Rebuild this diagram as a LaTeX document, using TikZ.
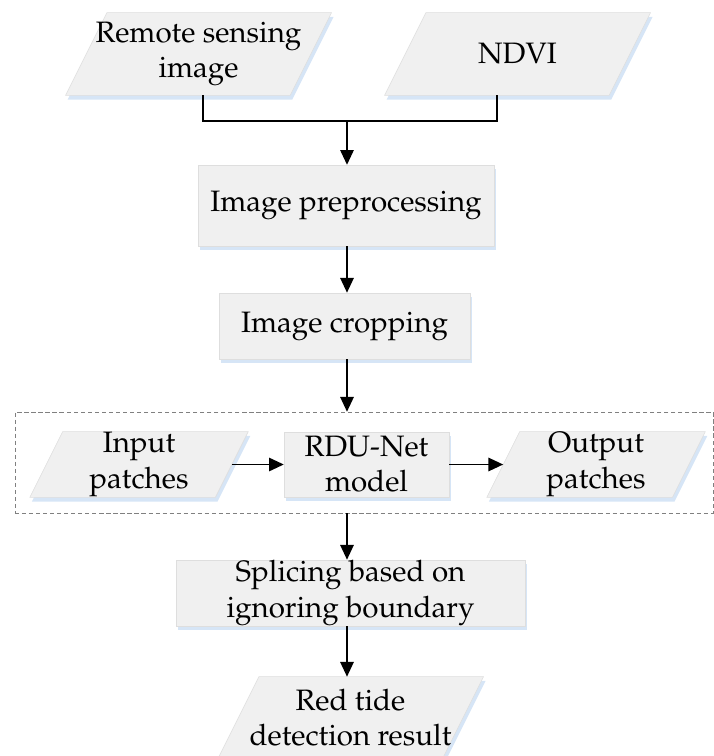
\documentclass[tikz,border=0pt]{standalone}
\usepackage[T1]{fontenc}
\usepackage{mathpazo}
\usetikzlibrary{arrows.meta, shadows, calc, backgrounds, positioning}

\definecolor{boxfill}{RGB}{240,240,240}
\definecolor{boxline}{RGB}{222,222,222}
\definecolor{shadowblue}{RGB}{214,229,246}

\begin{document}
\begin{tikzpicture}[x=0.025cm, y=-0.025cm,
  font=\fontsize{21}{25}\selectfont,
  boxshadow/.style={drop shadow={fill=shadowblue, opacity=1, shadow xshift=1.5pt, shadow yshift=-3pt}},
  procbox/.style={rectangle, fill=boxfill, draw=boxline, line width=0.4pt, align=center, inner sep=0pt, boxshadow},
  iobox/.style={rectangle, align=center, inner sep=0pt},
  iofill/.style={fill=boxfill, draw=boxline, line width=0.4pt, boxshadow},
  flowarrow/.style={-{Triangle[width=9.5pt,length=10.5pt]}, line width=1.3pt}]
\useasboundingbox (0,0) rectangle (714,756);

% inputs
\node[iobox, minimum width=5.6cm, minimum height=2.05cm](rs) at (198.5,54) {Remote sensing\\image};
\node[iobox, minimum width=5.6cm, minimum height=2.05cm](ndvi) at (517.5,54) {NDVI};
\coordinate (join) at (347,121);

% processing chain
\node[procbox, minimum width=7.4cm, minimum height=2.02cm](prep) at (346,205.5) {Image preprocessing};
\node[procbox, minimum width=6.27cm, minimum height=1.65cm](crop) at (344.5,326) {Image cropping};

% network stage
\node[rectangle, draw=gray, dashed, dash pattern=on 3pt off 2pt, line width=0.5pt, minimum width=17.45cm, minimum height=2.52cm](grp) at (364,462.5) {};
\node[iobox, minimum width=4.625cm, minimum height=1.625cm](inp) at (139,464.5) {Input\\patches};
\node[procbox, minimum width=4.12cm, minimum height=1.62cm](rdu) at (366.5,464.5) {RDU-Net\\model};
\node[iobox, minimum width=4.625cm, minimum height=1.625cm](outp) at (596,464.5) {Output\\patches};

% output
\node[procbox, minimum width=8.72cm, minimum height=1.65cm](spl) at (350.5,593) {Splicing based on\\ignoring boundary};
\node[iobox, minimum width=5.6cm, minimum height=2.05cm](red) at (350.5,718) {Red tide\\detection result};

% parallelograms behind the data nodes
\begin{scope}[on background layer]
\foreach \nm in {rs,ndvi,inp,outp,red}
  \path[iofill] let \p1=(\nm.north west), \p2=(\nm.south east), \n1={(\y1-\y2)/4} in
    ({\x1-\n1},\y2) -- ({\x2-\n1},\y2) -- ({\x2+\n1},\y1) -- ({\x1+\n1},\y1) -- cycle;
\end{scope}

\draw[line width=1.3pt] ([xshift=0.11cm]rs.south) |- (join) -| ([xshift=-0.51cm]ndvi.south);
\draw[flowarrow] (join) -- (join |- prep.north);
\draw[flowarrow] (prep.south -| join) -- (crop.north -| join);
\draw[flowarrow] (crop.south -| join) -- (grp.north -| join);
\draw[flowarrow] (inp.east) -- (rdu.west);
\draw[flowarrow] (rdu.east) -- (outp.west);
\draw[flowarrow] (grp.south -| join) -- (spl.north -| join);
\draw[flowarrow] (spl.south -| join) -- (red.north -| join);
\end{tikzpicture}
\end{document}
